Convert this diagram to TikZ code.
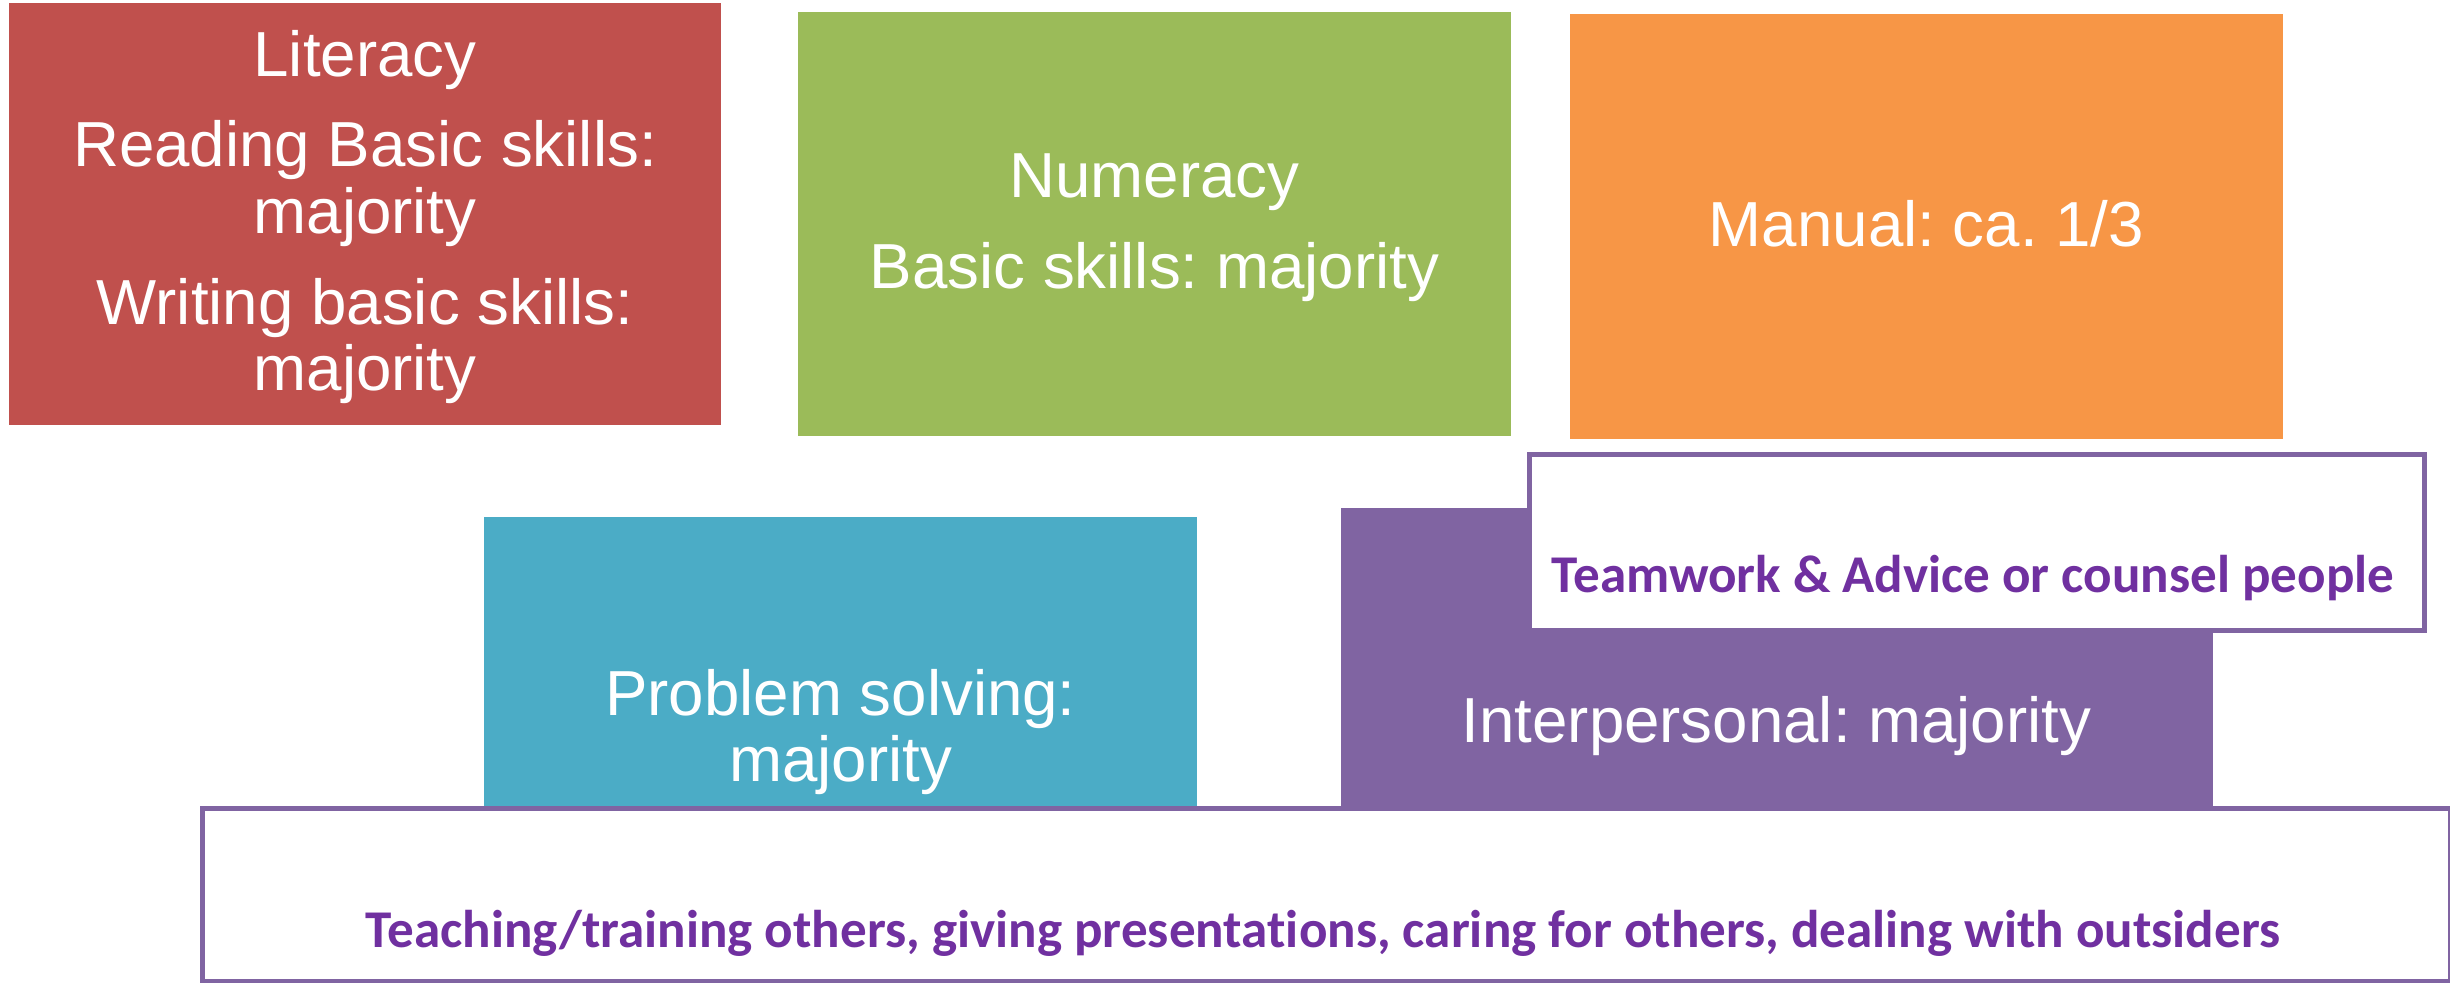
\documentclass[tikz,border=0pt]{standalone}
\usepackage{fontspec}
\setmainfont{Liberation Sans}
\newfontfamily\calibri[Ligatures=NoCommon]{Carlito}
\usepackage{xcolor}
\usetikzlibrary{positioning}
\frenchspacing
\definecolor{litred}{HTML}{C0504D}
\definecolor{numgreen}{HTML}{9BBB59}
\definecolor{manorange}{HTML}{F79646}
\definecolor{probteal}{HTML}{4BACC6}
\definecolor{interpurple}{HTML}{8064A2}
\definecolor{notepurple}{HTML}{7030A0}
\tikzstyle{skill}=[anchor=north west, inner sep=0, outer sep=0]
\tikzstyle{lbl}=[text=white, inner sep=0, anchor=base,
		font=\fontsize{18.1}{18.8}\selectfont]
\tikzstyle{note}=[anchor=north west, draw=interpurple, line width=1.5pt,
		fill=white, inner sep=0]
\tikzstyle{notetxt}=[text=notepurple, inner sep=0, anchor=base,
		font=\calibri\bfseries\fontsize{15.1}{16}\selectfont]

\begin{document}
\begin{tikzpicture}[x=0.01cm, y=-0.01cm]
            \useasboundingbox (0,0) rectangle (2450,983);
            \node[skill, fill=litred, minimum width=7.12cm, minimum height=4.22cm] (literacy) at (9,3) {};
            \node[skill, fill=numgreen, minimum width=7.13cm, minimum height=4.24cm] (numeracy) at (798,12) {};
            \node[skill, fill=manorange, minimum width=7.13cm, minimum height=4.25cm] (manual) at (1570,14) {};
            \node[skill, fill=probteal, minimum width=7.13cm, minimum height=2.89cm] (problem) at (484,517) {};
            \node[skill, fill=interpurple, minimum width=8.71cm, minimum height=2.98cm] (interpersonal) at (1341,508) {};
            \node[note, minimum width=8.94cm, minimum height=1.76cm] (teamwork) at (1527,452) {};
            \node[note, minimum width=22.47cm, minimum height=1.73cm] (outsiders) at (200,806) {};

            \node[lbl] (lit1) at (365,77) {Literacy};
            \node[lbl] (lit2) at (365,167) {Reading Basic skills:};
            \node[lbl] (lit3) at (365,233.5) {majority};
            \node[lbl] (lit4) at (365,325) {Writing basic skills:};
            \node[lbl] (lit5) at (365,391) {majority};
            \node[lbl] (num1) at (1154.5,198) {Numeracy};
            \node[lbl] (num2) at (1154.5,289) {Basic skills: majority};
            \node[lbl] (man1) at (1926.5,247) {Manual: ca. 1/3};
            \node[lbl] (prob1) at (840.5,716) {Problem solving:};
            \node[lbl] (prob2) at (840.5,782) {majority};
            \node[lbl] (inter1) at (1776.5,743) {Interpersonal: majority};
            \node[notetxt] (teamtxt) at (1973,593) {Teamwork \& Advice or counsel people};
            \node[notetxt] (outtxt) at (1323,948) {Teaching/training others, giving presentations, caring for others, dealing with outsiders};
        \end{tikzpicture}
\end{document}
